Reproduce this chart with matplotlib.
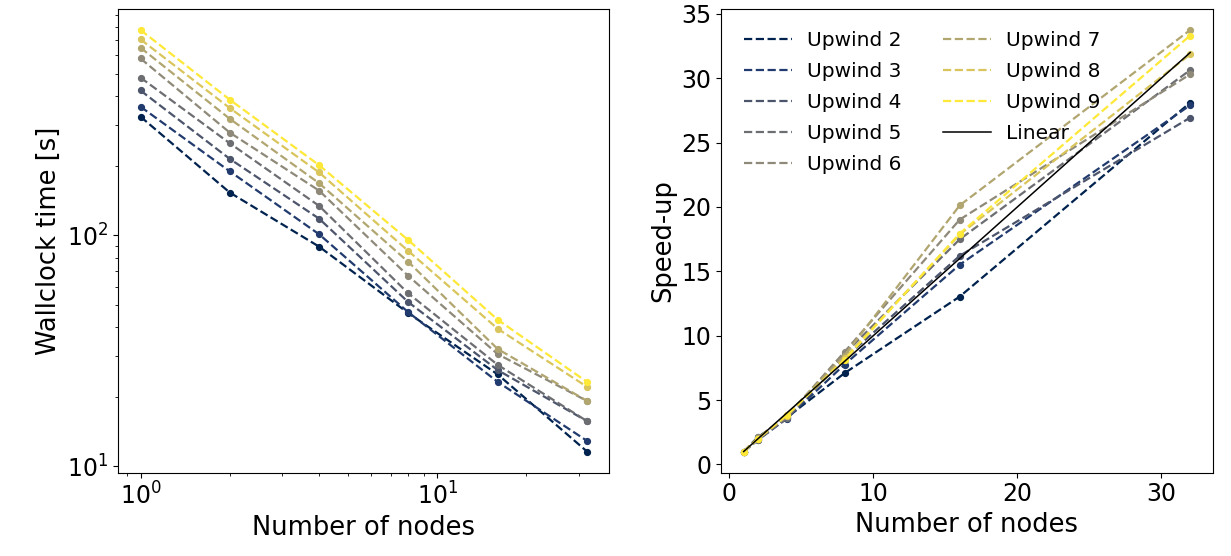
import numpy as np
import matplotlib
matplotlib.use("Agg")
import matplotlib.pyplot as plt

# Strong scaling runs, wallclock time per upwind order
nodes = [1, 2, 4, 8, 16, 32]
orders = [2, 3, 4, 5, 6, 7, 8, 9]

time_upwind2 = [326, 153, 89.3, 46.0, 25.0, 11.6]
time_upwind3 = [360, 189, 101, 46.4, 23.2, 12.9]
time_upwind4 = [423, 214, 118, 51.3, 26.1, 15.7]
time_upwind5 = [481, 250, 134, 56.0, 27.5, 15.7]
time_upwind6 = [582, 278, 156, 66.6, 30.6, 19.2]
time_upwind7 = [648, 319, 168, 76.6, 32.2, 19.2]
time_upwind8 = [704, 355, 187, 85.4, 39.4, 22.1]
time_upwind9 = [773, 386, 201, 95.2, 43.1, 23.2]

times = [time_upwind2, time_upwind3, time_upwind4, time_upwind5,
         time_upwind6, time_upwind7, time_upwind8, time_upwind9]

colors = plt.cm.cividis(np.linspace(0, 1, len(orders)))

plt.rcParams['font.size'] = 17

fig, (ax1, ax2) = plt.subplots(1, 2, figsize=(12.31, 5.56), dpi=100)
fig.subplots_adjust(left=0.096, right=0.985, bottom=0.15, top=0.984, wspace=0.228)

for order, t, c in zip(orders, times, colors):
    t = np.array(t, dtype=float)
    speedup = t[0] / t
    # dashed line carries the legend entry, dots drawn on top
    ax1.plot(nodes, t, '--', color=c, lw=1.6)
    ax1.plot(nodes, t, 'o', color=c, markersize=4.2)
    ax2.plot(nodes, speedup, '--', color=c, lw=1.6, label='Upwind %d' % order)
    ax2.plot(nodes, speedup, 'o', color=c, markersize=4.2)

ax2.plot(nodes, nodes, '-', color='black', lw=1.1, label='Linear')

ax1.set_xscale('log')
ax1.set_yscale('log')
ax1.set_xlabel('Number of nodes', fontsize=18.5)
ax1.set_ylabel('Wallclock time [s]', fontsize=18.5)

ax2.set_xlabel('Number of nodes', fontsize=18.5)
ax2.set_ylabel('Speed-up', fontsize=18.5)
ax2.set_yticks(range(0, 36, 5))
ax2.legend(ncol=2, frameon=False, fontsize=14.5, loc='upper left',
           handlelength=2.4, handletextpad=0.75, columnspacing=2.05,
           labelspacing=0.6, borderaxespad=0.7)

fig.savefig('out.png', dpi=100)
